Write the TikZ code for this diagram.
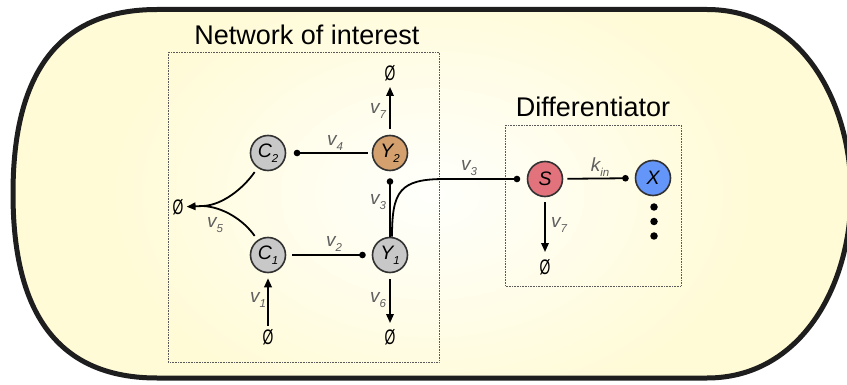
\documentclass[tikz,border=0pt]{standalone}
\usepackage{fontspec}
\usepackage{graphicx}
\setmainfont{Liberation Sans}
\usetikzlibrary{arrows.meta}
\definecolor{outline}{HTML}{1E1E1E}
\definecolor{bgy}{RGB}{255,251,214}
\definecolor{bgw}{RGB}{255,255,252}
\definecolor{cgray}{RGB}{200,200,200}
\definecolor{ctan}{RGB}{212,160,110}
\definecolor{cred}{RGB}{226,115,125}
\definecolor{cblue}{RGB}{100,150,250}
\definecolor{lblgray}{RGB}{95,95,95}
\definecolor{ringc}{RGB}{50,50,50}
\definecolor{boxc}{RGB}{90,90,90}
\newcommand{\spc}[2]{{\fontsize{19.5}{19.5}\selectfont\itshape #1}\raisebox{-5pt}{\fontsize{11.5}{11.5}\selectfont\itshape #2}}
\newcommand{\rate}[2]{{\fontsize{19}{19}\selectfont\itshape #1}\raisebox{-5pt}{\fontsize{11.5}{11.5}\selectfont\itshape #2}}
\newcommand{\nullset}{\scalebox{0.66}[1]{\fontsize{21}{21}\selectfont Ø}}
\tikzset{
  species/.style={circle, draw=ringc, line width=1.6pt, minimum size=35pt, inner sep=0pt},
  nul/.style={inner sep=0pt},
  lbl/.style={inner sep=0pt, text=lblgray},
  ttl/.style={inner sep=0pt, anchor=base, font=\fontsize{27}{30}\selectfont},
  flow/.style={line width=1.8pt, -{Triangle[length=9pt,width=7.5pt]}},
  dotend/.style={line width=1.8pt, -{Circle[length=6.5pt]}},
  plainline/.style={line width=1.8pt},
  dashbox/.style={draw=boxc, densely dotted, line width=0.6pt},
  bigdot/.style={circle, fill=black, minimum size=7.5pt, inner sep=0pt}
}
\begin{document}
\begin{tikzpicture}[x=1pt,y=-1pt]
\useasboundingbox (0,0) rectangle (847,385);
% outer cell
\def\cellpath{(157,9.5) -- (707,9.5) .. controls (800,9.5) and (851,100) .. (851,193.7)
  .. controls (851,287) and (800,378) .. (707,378) -- (157,378)
  .. controls (40,378) and (13,287) .. (13,193.7)
  .. controls (13,100) and (40,9.5) .. cycle}
\fill[bgy] \cellpath;
\begin{scope}
\clip \cellpath;
\shade[inner color=bgw, outer color=bgy] (432,193.7) ellipse [x radius=330, y radius=230];
\end{scope}
\draw[outline, line width=5pt] \cellpath;
% boxes
\draw[dashbox] (168,52) rectangle (439,362);
\draw[dashbox] (505,125) rectangle (681,286);
\node[ttl] (tnet) at (307,45) {Network of interest};
\node[ttl] (tdiff) at (593,117) {Differentiator};
% species
\node[species, fill=cgray] (C2) at (268,153) {\spc{C}{2}};
\node[species, fill=ctan]  (Y2) at (390,153) {\spc{Y}{2}};
\node[species, fill=cgray] (C1) at (268,255) {\spc{C}{1}};
\node[species, fill=cgray] (Y1) at (390,255) {\spc{Y}{1}};
\node[species, fill=cred]  (S)  at (545,179) {{\fontsize{19.5}{19.5}\selectfont\itshape S}};
\node[species, fill=cblue] (X)  at (653,178) {{\fontsize{19.5}{19.5}\selectfont\itshape X}};
% empty sets
\node[nul] (N7) at (390,73) {\nullset};
\node[nul] (N5) at (178,207) {\nullset};
\node[nul] (N1) at (268,337) {\nullset};
\node[nul] (N6) at (390,337) {\nullset};
\node[nul] (NS) at (545,267) {\nullset};
% dots
\node[bigdot] (d1) at (654,207) {};
\node[bigdot] (d2) at (654,221.5) {};
\node[bigdot] (d3) at (654,236) {};
% connectors
\draw[flow, shorten <=3pt, shorten >=5pt] (N1) -- (C1);
\draw[flow, shorten <=6pt, shorten >=6pt] (Y1) -- (N6);
\draw[flow, shorten <=6pt, shorten >=6pt] (Y2) -- (N7);
\draw[dotend, shorten <=6pt, shorten >=6pt] (C1) -- (Y1);
\draw[dotend, shorten <=4pt, shorten >=7.5pt] (Y2) -- (C2);
\draw[dotend, shorten <=0pt, shorten >=7pt] (Y1) -- (Y2);
\coordinate (bend) at (445,179);
\draw[dotend, shorten >=6.5pt] ([xshift=2pt]Y1.north) .. controls +(0,-46) and +(-45,0) .. (bend) -- (S);
\draw[dotend, shorten <=4pt, shorten >=6pt] (S) -- (X);
\draw[flow, shorten <=5pt, shorten >=7pt] (S) -- (NS);
\coordinate (J) at (203,206);
\draw[plainline, shorten <=5pt] (C2.235) .. controls +(-14,20) and +(20,-1) .. (J);
\draw[plainline, shorten <=5pt] (C1.125) .. controls +(-14,-20) and +(20,1) .. (J);
\draw[flow, shorten >=3pt] (J) -- (N5);
% labels
\node[lbl] (lv1) at (258,300) {\rate{v}{1}};
\node[lbl] (lv2) at (334,244) {\rate{v}{2}};
\node[lbl] (lv6) at (378,300) {\rate{v}{6}};
\node[lbl] (lv3a) at (378,202) {\rate{v}{3}};
\node[lbl] (lv5) at (215,225) {\rate{v}{5}};
\node[lbl] (lv4) at (335,143) {\rate{v}{4}};
\node[lbl] (lv7a) at (378,111) {\rate{v}{7}};
\node[lbl] (lv3b) at (469,168) {\rate{v}{3}};
\node[lbl] (lkin) at (600,167) {\rate{k}{in}};
\node[lbl] (lv7b) at (559,225) {\rate{v}{7}};
\end{tikzpicture}
\end{document}
